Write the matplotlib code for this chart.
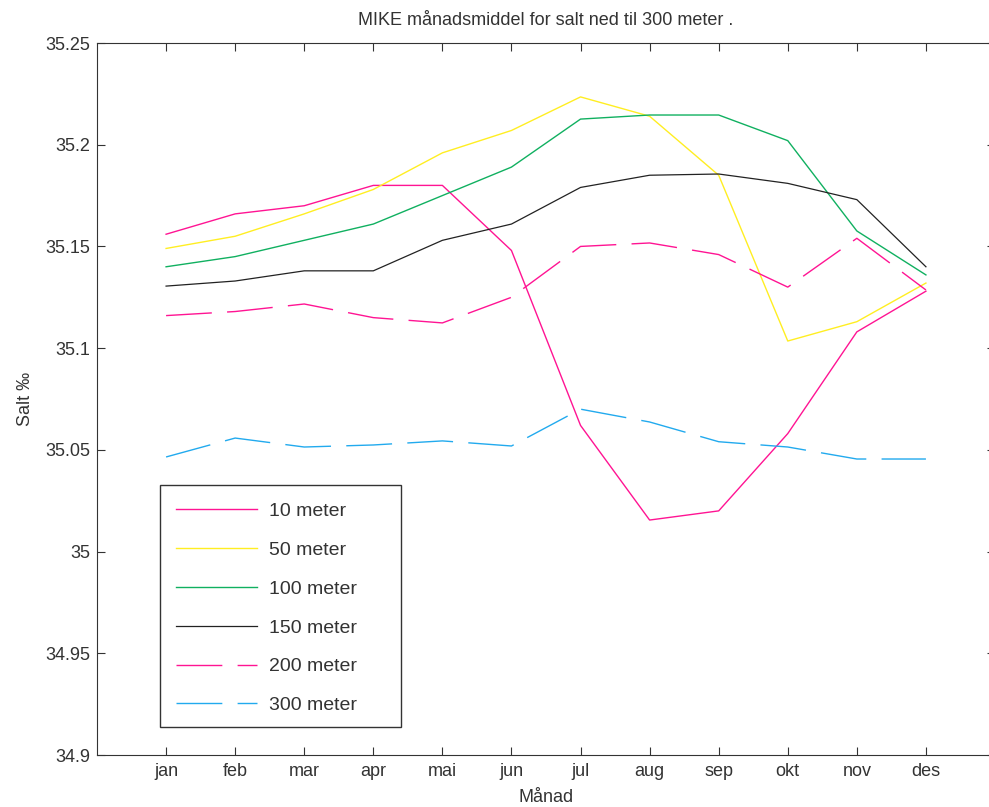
import matplotlib.pyplot as plt
import numpy as np
from matplotlib.patches import Rectangle

plt.rcParams['font.family'] = ['Liberation Sans', 'DejaVu Sans']

months = ['jan', 'feb', 'mar', 'apr', 'mai', 'jun', 'jul', 'aug', 'sep', 'okt', 'nov', 'des']

salt_10 = [35.156, 35.166, 35.170, 35.180, 35.180, 35.148, 35.062, 35.0155, 35.020, 35.058, 35.108, 35.128]
salt_50 = [35.149, 35.155, 35.166, 35.178, 35.196, 35.207, 35.2235, 35.214, 35.185, 35.1035, 35.113, 35.132]
salt_100 = [35.140, 35.145, 35.153, 35.161, 35.175, 35.189, 35.2126, 35.2146, 35.2146, 35.202, 35.1576, 35.136]
salt_150 = [35.1305, 35.133, 35.138, 35.138, 35.153, 35.161, 35.179, 35.185, 35.1856, 35.181, 35.173, 35.140]
salt_200 = [35.116, 35.118, 35.1217, 35.115, 35.1124, 35.125, 35.150, 35.1517, 35.146, 35.130, 35.154, 35.1286]
salt_300 = [35.0465, 35.0558, 35.0514, 35.0524, 35.0544, 35.0519, 35.070, 35.0637, 35.054, 35.0514, 35.0455, 35.0455]

x = np.arange(1, 13)

fig = plt.figure(figsize=(9.89, 8.07), dpi=100)
ax = fig.add_axes([97/989, 52/807, 898/989, 712/807])

magenta = '#ff1493'
dash = (0, (33, 11))
ax.plot(x, salt_10, color=magenta, lw=1, label='10 meter')
ax.plot(x, salt_50, color='#ffee22', lw=1, label='50 meter')
ax.plot(x, salt_100, color='#10b060', lw=1, label='100 meter')
ax.plot(x, salt_150, color='#222222', lw=0.9, label='150 meter')
ax.plot(x, salt_200, color=magenta, lw=1, linestyle=dash, label='200 meter')
ax.plot(x, salt_300, color='#22aaee', lw=1, linestyle=dash, label='300 meter')

ax.set_xlim(0, 13)
ax.set_ylim(34.9, 35.25)
ax.set_xticks(x)
ax.set_xticklabels(months)
ax.set_yticks([34.9, 34.95, 35.0, 35.05, 35.1, 35.15, 35.2, 35.25])
ax.set_yticklabels(['34.9', '34.95', '35', '35.05', '35.1', '35.15', '35.2', '35.25'])
ax.tick_params(direction='in', top=True, right=True, length=6, labelsize=13,
               colors='#333333', labelcolor='#333333', pad=6)
ax.tick_params(axis='y', pad=5)
for s in ax.spines.values():
    s.set_color('#333333')
ax.spines['right'].set_visible(False)

ax.set_title('MIKE månadsmiddel for salt ned til 300 meter .', fontsize=13, color='#333333', pad=13)
ax.set_xlabel('Månad', fontsize=13, color='#333333', labelpad=6)
ax.set_ylabel('Salt ‰', fontsize=13, color='#333333', labelpad=8)

leg = ax.legend(loc='upper left', bbox_to_anchor=(160/989, 1 - 487/807),
                bbox_transform=fig.transFigure, borderaxespad=0, fontsize=14,
                handlelength=4.2, handletextpad=0.62, labelspacing=1.09,
                borderpad=0.8, frameon=False)
for t in leg.get_texts():
    t.set_color('#333333')

# MATLAB style legend box, wider than its contents
box = Rectangle((160/989, 1 - 727/807), 241/989, 242/807, transform=fig.transFigure,
                fill=False, edgecolor='#333333', lw=1, zorder=5)
fig.add_artist(box)

fig.savefig('out.png', dpi=100)
